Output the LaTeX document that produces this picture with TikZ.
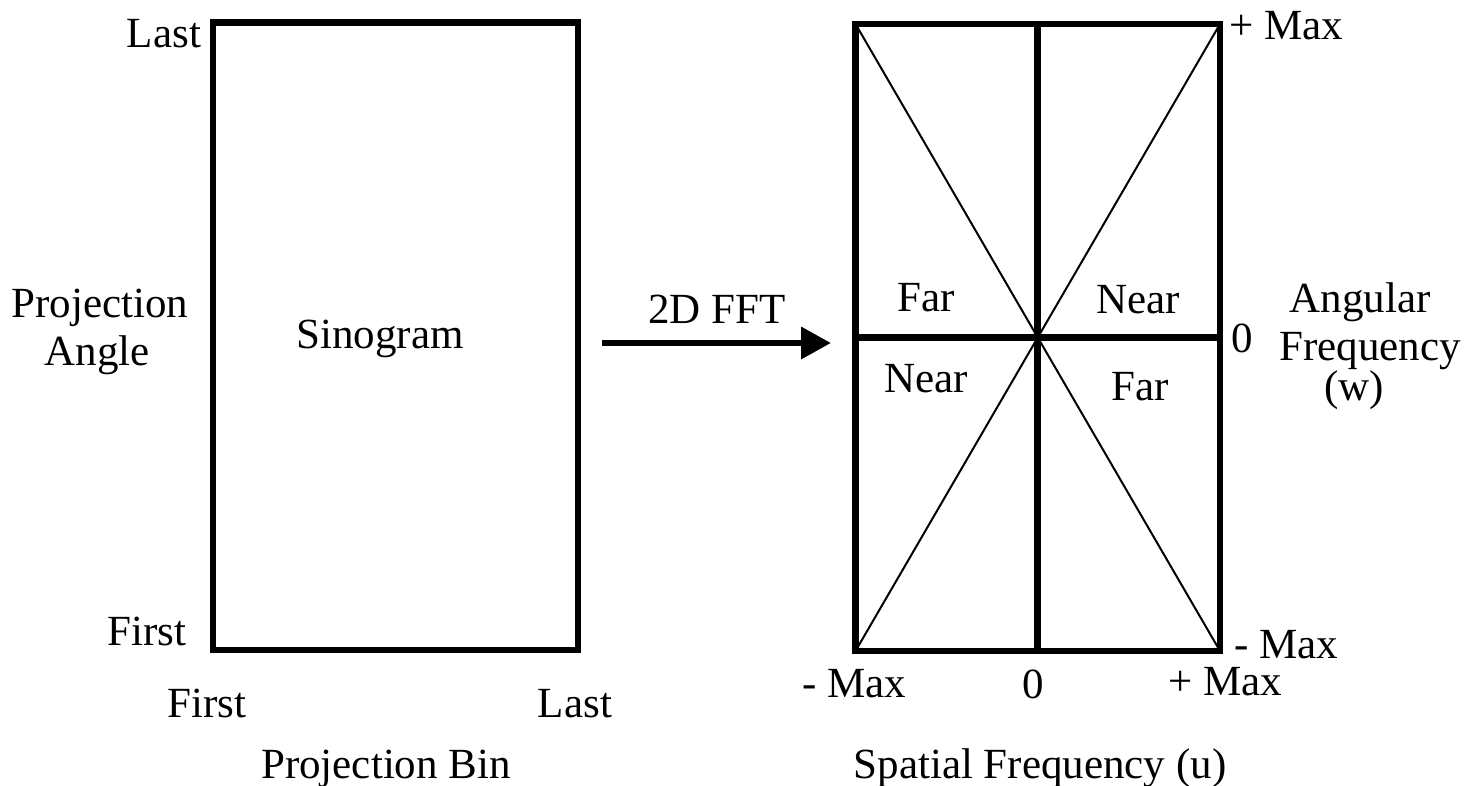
\documentclass[tikz,border=0pt]{standalone}
\usepackage{fontspec}
\setmainfont{Liberation Serif}
\usetikzlibrary{arrows.meta}
\begin{document}
\begin{tikzpicture}[x=0.5pt,y=-0.5pt,
  lbl/.style={anchor=base,inner sep=0pt,font=\fontsize{21.5pt}{25pt}\selectfont},
  frame/.style={draw,line width=3.3pt,outer sep=0pt,inner sep=0pt},
  thick line/.style={line width=3.3pt},
  thin line/.style={line width=1pt}]
\useasboundingbox (0,0) rectangle (1466,786);
% boxes
\node[frame,minimum width=182.5pt,minimum height=313.75pt] (sino) at (395.5,336.25) {};
\node[frame,minimum width=182.25pt,minimum height=313.5pt] (fft) at (1037.75,337.5) {};
\draw[thick line] (fft.north) -- (fft.south);
\draw[thick line] (fft.west) -- (fft.east);
\draw[thin line] (fft.north west) -- (fft.south east);
\draw[thin line] (fft.north east) -- (fft.south west);
% arrow
\coordinate (a0) at (602,343);
\coordinate (a1) at (831,343);
\draw[thick line,-{Triangle[length=15pt,width=15.5pt]}] (a0) -- (a1);
\node[lbl] (fftlbl) at (717,323) {2D FFT};
% left labels
\node[lbl] (sinolbl) at (380,348) {Sinogram};
\node[lbl] (lastL) at (164,48) {Last};
\node[lbl] (firstL) at (147,645) {First};
\node[lbl] (projA1) at (100,317) {Projection};
\node[lbl] (projA2) at (97,365) {Angle};
\node[lbl] (firstB) at (207,717) {First};
\node[lbl] (lastB) at (575,717) {Last};
\node[lbl] (projB) at (386,778) {Projection Bin};
% right labels
\node[lbl] (far1) at (926,311) {Far};
\node[lbl] (near1) at (1138,313) {Near};
\node[lbl] (near2) at (926,392) {Near};
\node[lbl] (far2) at (1140,400) {Far};
\node[lbl,anchor=base west] (pmaxR) at (1229,40) {+ Max};
\node[lbl,anchor=base west] (zeroR) at (1231,352) {0};
\node[lbl,anchor=base west] (mmaxR) at (1234,658) {- Max};
\node[lbl] (ang1) at (1360,312) {Angular};
\node[lbl] (ang2) at (1370,360) {Frequency};
\node[lbl] (ang3) at (1354,400) {(w)};
\node[lbl] (mmaxB) at (854,697) {- Max};
\node[lbl] (zeroB) at (1033,698) {0};
\node[lbl] (pmaxB) at (1225,695) {+ Max};
\node[lbl] (spat) at (1040,778) {Spatial Frequency (u)};
\end{tikzpicture}
\end{document}
